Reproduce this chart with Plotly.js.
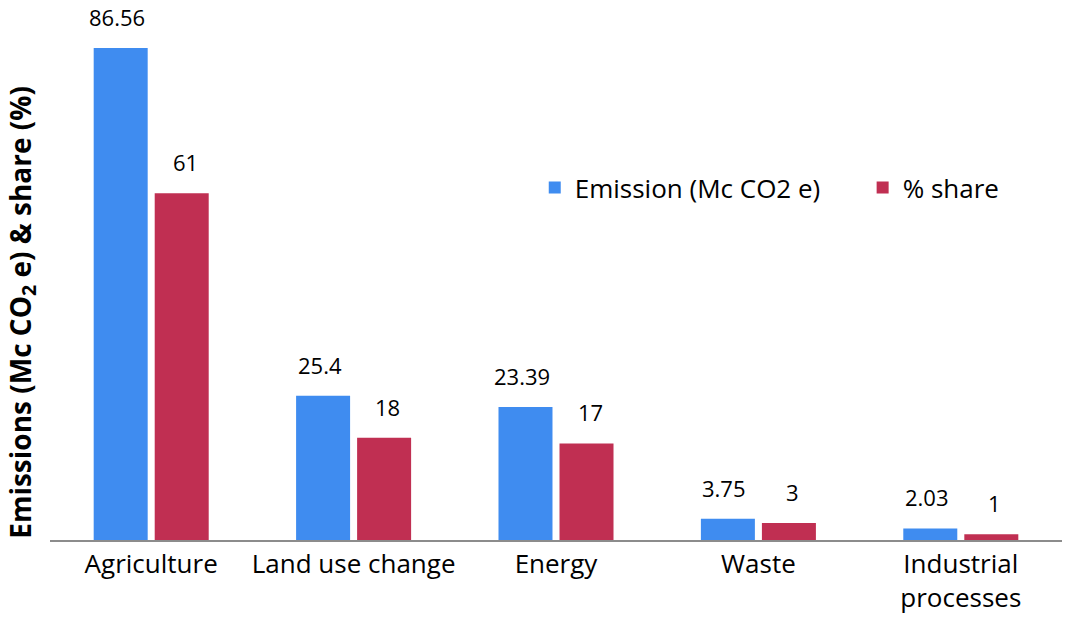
<!DOCTYPE html>
<html>
<head>
<meta charset="utf-8">
<script src="https://cdn.plot.ly/plotly-3.0.1.min.js"></script>
<style>
  html, body { margin: 0; padding: 0; background: #fff; }
  #chart { width: 1067px; height: 617px; }
</style>
</head>
<body>
<div id="chart"></div>
<script>
const sectors = ['Agriculture', 'Land use change', 'Energy', 'Waste', 'Industrial<br>processes'];
const emission = [86.56, 25.4, 23.39, 3.75, 2.03];
const share = [61, 18, 17, 3, 1];
const emissionLabels = ['86.56', '25.4', '23.39', '3.75', '2.03'];
const shareLabels = ['61', '18', '17', '3', '1'];

const BLUE = '#3f8cf0';
const RED = '#c02f52';
const FONT = '"Open Sans", sans-serif';

const traces = [
    {
        x: sectors,
        y: emission,
        type: 'bar',
        name: 'Emission (Mc CO2 e)',
        marker: { color: BLUE },
        legend: 'legend',
        hoverinfo: 'skip'
    },
    {
        x: sectors,
        y: share,
        type: 'bar',
        name: '% share',
        marker: { color: RED },
        legend: 'legend2',
        hoverinfo: 'skip'
    }
];

// value labels sit well above each bar, like the original
const annotations = [];
sectors.forEach((s, i) => {
    annotations.push({
        x: s, y: emission[i], xref: 'x', yref: 'y',
        text: emissionLabels[i], showarrow: false,
        xanchor: 'center', yanchor: 'bottom', xshift: -34, yshift: 14,
        font: { family: FONT, size: 22, color: '#000' }
    });
    annotations.push({
        x: s, y: share[i], xref: 'x', yref: 'y',
        text: shareLabels[i], showarrow: false,
        xanchor: 'center', yanchor: 'bottom', xshift: 34, yshift: 14,
        font: { family: FONT, size: 22, color: '#000' }
    });
});

// y title drawn as an annotation so it can sit a bit low, as in the original
annotations.push({
    xref: 'paper', yref: 'paper',
    x: -0.028, y: 0.43,
    xanchor: 'center', yanchor: 'middle',
    textangle: -90,
    showarrow: false,
    text: '<b>Emissions (Mc CO<sub>2</sub> e) & share (%)</b>',
    font: { family: FONT, size: 28, color: '#000' }
});

const legendBase = {
    orientation: 'h',
    y: 0.665,
    xanchor: 'left', yanchor: 'middle',
    font: { family: FONT, size: 26, color: '#000' },
    bgcolor: 'rgba(0,0,0,0)',
    itemwidth: 30
};

const layout = {
    width: 1067,
    height: 617,
    paper_bgcolor: '#fff',
    plot_bgcolor: '#fff',
    font: { family: FONT, size: 26, color: '#000' },
    margin: { l: 50, r: 5, t: 10, b: 77 },
    barmode: 'group',
    bargap: 0.397,
    bargroupgap: 0.115,
    showlegend: true,
    legend: Object.assign({}, legendBase, { x: 0.479 }),
    legend2: Object.assign({}, legendBase, { x: 0.803 }),
    xaxis: {
        showline: true,
        linecolor: '#8c8c8c',
        linewidth: 2,
        ticks: '',
        showgrid: false,
        tickfont: { family: FONT, size: 26, color: '#000' },
        fixedrange: true
    },
    yaxis: {
        range: [0, 93.25],
        showgrid: false,
        zeroline: false,
        showticklabels: false,
        ticks: '',
        fixedrange: true,
        automargin: false
    },
    annotations: annotations
};

Plotly.newPlot('chart', traces, layout, { displayModeBar: false, staticPlot: true });
</script>
</body>
</html>
